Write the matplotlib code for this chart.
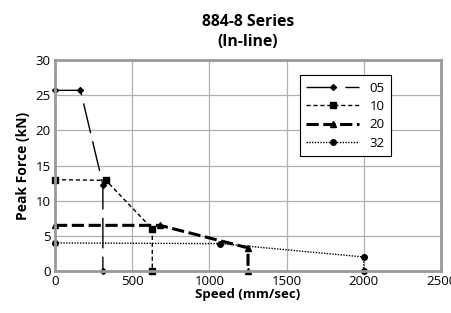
import matplotlib
matplotlib.use("Agg")
import matplotlib.pyplot as plt

plt.rcParams['font.family'] = ['Open Sans', 'DejaVu Sans']

x05 = [0, 165, 310, 310]
y05 = [25.7, 25.7, 12.3, 0]
x10 = [0, 330, 630, 630]
y10 = [13.0, 12.9, 6.0, 0]
x20 = [0, 680, 1250, 1250]
y20 = [6.5, 6.5, 3.3, 0]
x32 = [0, 1070, 2000, 2000]
y32 = [4.0, 3.9, 2.0, 0]
labels = ['05', '10', '20', '32']

fig = plt.figure(figsize=(4.52, 3.13), dpi=100)
ax = fig.add_axes([0.1217, 0.134, 0.854, 0.674])

ax.plot(x05, y05, color='black', lw=1.0, dashes=(22, 6), marker='D', ms=3, label=labels[0], clip_on=False)
ax.plot(x10, y10, color='black', lw=1.0, dashes=(3, 2), marker='s', ms=4, label=labels[1], clip_on=False)
ax.plot(x20, y20, color='black', lw=2.2, dashes=(4, 1.5), marker='^', ms=4, label=labels[2], clip_on=False)
ax.plot(x32, y32, color='black', lw=1.0, dashes=(1, 1), marker='o', ms=4, label=labels[3], clip_on=False)

ax.set_xlim(0, 2500)
ax.set_ylim(0, 30)
ax.set_xticks([0, 500, 1000, 1500, 2000, 2500])
ax.set_yticks([0, 5, 10, 15, 20, 25, 30])
ax.grid(True, color='#b0b0b0', lw=0.9)
ax.set_axisbelow(True)
for s in ax.spines.values():
    s.set_color('#999999')
    s.set_linewidth(2)
ax.tick_params(length=0, labelsize=9.5, pad=3)
ax.set_xlabel('Speed (mm/sec)', fontsize=9.5, fontweight='bold', labelpad=0)
ax.set_ylabel('Peak Force (kN)', fontsize=10, fontweight='bold', labelpad=4)
ax.set_title('884-8 Series\n(In-line)', fontsize=11.3, fontweight='bold', pad=10, linespacing=1.35)

leg = ax.legend(loc='upper right', bbox_to_anchor=(0.888, 0.96), fontsize=9.5,
                frameon=True, fancybox=False, edgecolor='black', framealpha=1,
                handlelength=4, labelspacing=0.4, borderpad=0.5)
leg.get_frame().set_linewidth(0.8)

fig.savefig('out.png', dpi=100)
